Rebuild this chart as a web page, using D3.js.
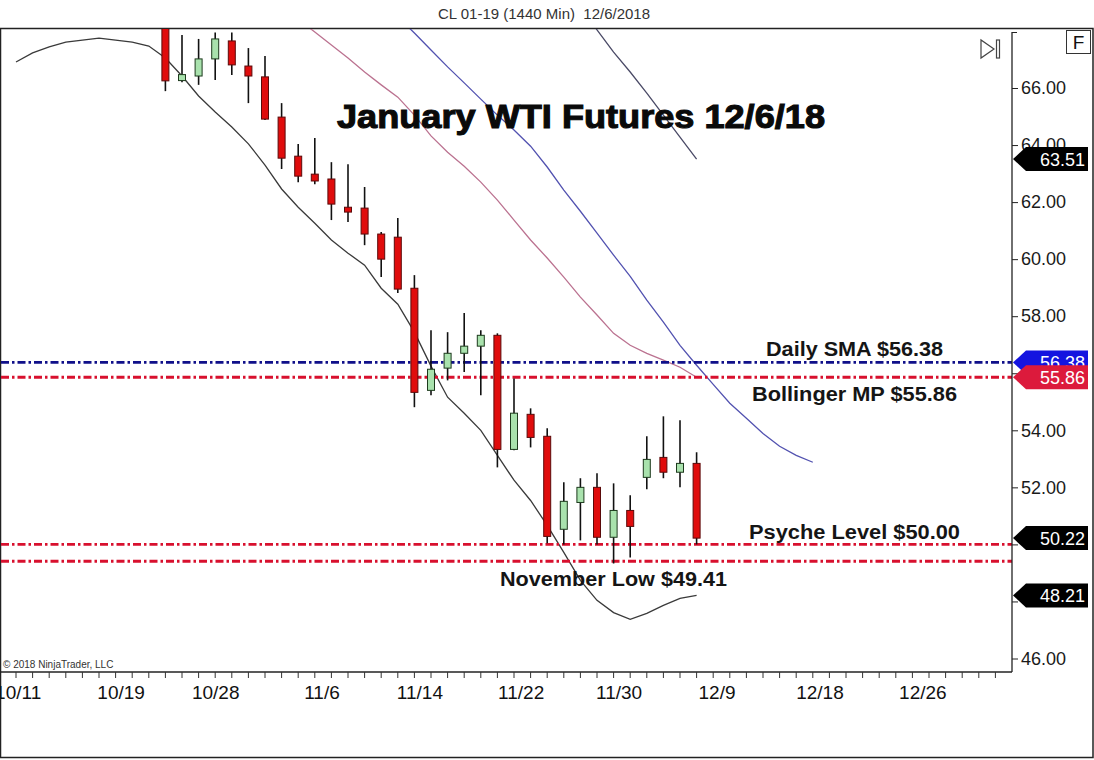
<!DOCTYPE html>
<html>
<head>
<meta charset="utf-8">
<script src="https://cdn.jsdelivr.net/npm/d3@7"></script>
<style>
  body { margin: 0; background: #fff; }
  svg { display: block; font-family: "Liberation Sans", Arial, sans-serif; }
</style>
</head>
<body>
<div id="chart"></div>
<script>
// candles, by trading-day index (first visible bar is index 9)
var firstBar = 9;
var opens  = [68.3, 66.26, 66.42, 67.02, 67.65, 66.77, 66.39, 64.98, 63.61, 62.98, 62.81, 61.82, 61.79, 60.88, 60.77, 58.98, 55.40, 56.18, 56.70, 56.95, 57.33, 53.33, 54.56, 53.79, 50.53, 51.47, 52.00, 50.25, 51.19, 52.35, 53.05, 52.53, 52.84];
var highs  = [69.0, 67.86, 67.72, 67.95, 67.95, 67.40, 67.12, 65.47, 64.04, 64.25, 63.40, 63.33, 62.53, 60.95, 61.44, 59.44, 57.51, 57.44, 58.11, 57.51, 57.40, 55.82, 54.77, 54.07, 52.18, 52.32, 52.49, 52.14, 51.72, 53.79, 54.49, 54.35, 53.23];
var lows   = [65.89, 66.20, 66.11, 66.28, 66.46, 65.47, 64.88, 63.16, 62.70, 62.63, 61.37, 61.30, 60.49, 59.37, 58.81, 54.81, 55.23, 55.75, 56.04, 55.23, 52.70, 53.30, 53.40, 50.04, 50.00, 50.14, 50.00, 49.33, 49.54, 51.93, 52.32, 52.00, 50.00];
var closes = [66.25, 66.47, 67.02, 67.72, 66.81, 66.42, 64.91, 63.54, 62.91, 62.74, 61.93, 61.65, 60.88, 60.00, 58.95, 55.33, 56.14, 56.70, 56.95, 57.33, 53.33, 54.60, 53.75, 50.28, 51.51, 52.00, 50.25, 51.19, 50.63, 52.98, 52.53, 52.84, 50.22];

// indicator lines: start index + values
var lowerBandStart = 0;
var lowerBand = [66.91, 67.23, 67.44, 67.61, 67.68, 67.75, 67.68, 67.61, 67.47, 67.05, 66.42, 65.72, 65.16, 64.63, 64.04, 63.30, 62.46, 61.82, 61.26, 60.67, 60.21, 59.79, 58.98, 58.42, 57.44, 56.25, 55.16, 54.60, 54.00, 53.12, 52.25, 51.54, 50.67, 49.72, 48.74, 48.04, 47.61, 47.37, 47.58, 47.86, 48.11, 48.21];
var midBandStart = 17;
var midBand = [68.42, 67.96, 67.51, 67.05, 66.56, 66.11, 65.68, 65.05, 64.32, 63.75, 63.26, 62.70, 62.07, 61.37, 60.67, 60.04, 59.37, 58.67, 58.04, 57.40, 56.98, 56.70, 56.46, 56.21, 55.86];
var upperBandStart = 34;
var upperBand = [68.81, 68.04, 67.26, 66.56, 65.82, 65.05, 64.28, 63.51];
var smaStart = 23;
var sma = [68.49, 67.93, 67.33, 66.74, 66.18, 65.61, 65.05, 64.53, 63.96, 63.23, 62.42, 61.68, 60.91, 60.14, 59.40, 58.56, 57.79, 56.98, 56.28, 55.61, 54.95, 54.42, 53.89, 53.44, 53.12, 52.88];

// horizontal levels
var levelValues = [56.38, 55.86, 50.00, 49.41];
var levelColors = ["#10108a", "#d8102e", "#d8102e", "#d8102e"];

// price tags on the right axis
var tagValues = [63.51, 56.38, 55.86, 50.22, 48.21];
var tagColors = ["#000", "#1414e0", "#dc1a3c", "#000", "#000"];

var priceTicks = [46, 48, 50, 52, 54, 56, 58, 60, 62, 64, 66];
var hiddenPriceLabels = [48, 50, 56];   // covered by tags in the original
var dateTickPos = [0.1, 6.3, 12.0, 18.4, 24.3, 30.4, 36.3, 42.2, 48.4, 54.6];
var dateTickLabels = ["10/11", "10/19", "10/28", "11/6", "11/14", "11/22", "11/30", "12/9", "12/18", "12/26"];

var width = 1094, height = 760;
var plotLeft = 1, plotTop = 29, plotRight = 1012, plotBottom = 672;

var svg = d3.select("#chart").append("svg")
    .attr("width", width)
    .attr("height", height);

var xScale = d3.scaleLinear().domain([0, 60]).range([16, 1012]);
var yScale = d3.scaleLinear().domain([46, 66]).range([658.5, 88]);

svg.append("defs").append("clipPath").attr("id", "plotclip")
    .append("rect")
    .attr("x", plotLeft).attr("y", plotTop)
    .attr("width", plotRight - plotLeft).attr("height", plotBottom - plotTop);

// header
svg.append("text")
    .attr("x", 544).attr("y", 19)
    .attr("text-anchor", "middle")
    .style("white-space", "pre")
    .style("font-family", "'Liberation Sans Narrow', 'Liberation Sans', sans-serif")
    .attr("font-size", 15)
    .attr("fill", "#333")
    .text("CL 01-19 (1440 Min)  12/6/2018");

// frame
svg.append("rect")
    .attr("x", 0.5).attr("y", 28.5)
    .attr("width", 1092.5).attr("height", 729)
    .attr("fill", "none").attr("stroke", "#222").attr("stroke-width", 1.5);

var plot = svg.append("g").attr("clip-path", "url(#plotclip)");

function lineFrom(start, values, color, w) {
    var pts = values.map(function (v, k) { return [start + k, v]; });
    plot.append("path")
        .datum(pts)
        .attr("fill", "none")
        .attr("stroke", color)
        .attr("stroke-width", w)
        .attr("d", d3.line()
            .x(function (d) { return xScale(d[0]); })
            .y(function (d) { return yScale(d[1]); }));
}

lineFrom(lowerBandStart, lowerBand, "#3a3a3a", 1.3);
lineFrom(midBandStart, midBand, "#bb7290", 1.3);
lineFrom(upperBandStart, upperBand, "#4a4a66", 1.3);
lineFrom(smaStart, sma, "#5252b0", 1.3);

// horizontal dash-dot levels
plot.selectAll("line.level")
    .data(levelValues).enter().append("line")
    .attr("class", "level")
    .attr("x1", plotLeft).attr("x2", plotRight)
    .attr("y1", function (d) { return yScale(d); })
    .attr("y2", function (d) { return yScale(d); })
    .attr("stroke", function (d, i) { return levelColors[i]; })
    .attr("stroke-width", 2.8)
    .attr("stroke-dasharray", "8,3,2.5,3");

// candles
var candles = opens.map(function (o, k) {
    return { i: firstBar + k, o: o, h: highs[k], l: lows[k], c: closes[k] };
});
var bodyW = 7;

var cg = plot.selectAll("g.candle")
    .data(candles).enter().append("g")
    .attr("class", "candle");

cg.append("line")
    .attr("x1", function (d) { return xScale(d.i); })
    .attr("x2", function (d) { return xScale(d.i); })
    .attr("y1", function (d) { return yScale(d.h); })
    .attr("y2", function (d) { return yScale(d.l); })
    .attr("stroke", "#111")
    .attr("stroke-width", 1.6);

cg.append("rect")
    .attr("x", function (d) { return xScale(d.i) - bodyW / 2; })
    .attr("y", function (d) { return yScale(Math.max(d.o, d.c)); })
    .attr("width", bodyW)
    .attr("height", function (d) { return Math.max(1, Math.abs(yScale(d.o) - yScale(d.c))); })
    .attr("fill", function (d) { return d.c >= d.o ? "#a9e2ad" : "#e00c0c"; })
    .attr("stroke", function (d) { return d.c >= d.o ? "#1d3a1d" : "#5a0a0a"; })
    .attr("stroke-width", 1);

// title and notes
svg.append("text")
    .attr("x", 337).attr("y", 128)
    .attr("textLength", 488).attr("lengthAdjust", "spacingAndGlyphs")
    .attr("font-size", 33).attr("font-weight", "bold")
    .attr("fill", "#0a0a0a").attr("stroke", "#0a0a0a").attr("stroke-width", 1.1)
    .text("January WTI Futures 12/6/18");

var notes = [
    { t: "Daily SMA $56.38", x: 766, w: 177, v: 56.38, dy: -6 },
    { t: "Bollinger MP $55.86", x: 752, w: 205, v: 55.86, dy: 24 },
    { t: "Psyche Level $50.00", x: 749, w: 211, v: 50.00, dy: -5 },
    { t: "November Low $49.41", x: 500, w: 227, v: 49.41, dy: 25 }
];
svg.selectAll("text.note")
    .data(notes).enter().append("text")
    .attr("class", "note")
    .attr("x", function (d) { return d.x; })
    .attr("y", function (d) { return yScale(d.v) + d.dy; })
    .attr("textLength", function (d) { return d.w; })
    .attr("lengthAdjust", "spacingAndGlyphs")
    .attr("font-size", 20).attr("font-weight", "bold")
    .attr("fill", "#151515")
    .text(function (d) { return d.t; });

// price axis
var yAxis = d3.axisRight(yScale)
    .tickValues(priceTicks)
    .tickFormat(function (d) { return hiddenPriceLabels.indexOf(d) >= 0 ? "" : d3.format(".2f")(d); })
    .tickSize(6)
    .tickPadding(3);

var ya = svg.append("g")
    .attr("transform", "translate(" + plotRight + ",0)")
    .call(yAxis);
ya.select(".domain").remove();
ya.selectAll("line").attr("stroke", "#222");
ya.selectAll("text")
    .attr("font-size", 18)
    .attr("font-family", "'Liberation Sans', Arial, sans-serif")
    .attr("fill", "#1a1a1a");

svg.append("line")
    .attr("x1", plotRight).attr("x2", plotRight)
    .attr("y1", 32).attr("y2", plotBottom)
    .attr("stroke", "#222").attr("stroke-width", 1.3);
svg.append("line")
    .attr("x1", plotRight).attr("x2", plotRight + 5)
    .attr("y1", 32.5).attr("y2", 32.5)
    .attr("stroke", "#222");

// price tags
var tags = svg.selectAll("g.tag")
    .data(tagValues).enter().append("g")
    .attr("class", "tag")
    .attr("transform", function (d) { return "translate(0," + yScale(d) + ")"; });

tags.append("path")
    .attr("d", "M1013,0 L1026,-12 L1088,-12 L1088,12 L1026,12 Z")
    .attr("fill", function (d, i) { return tagColors[i]; });

tags.append("text")
    .attr("x", 1085).attr("y", 6.5)
    .attr("text-anchor", "end")
    .attr("font-size", 18)
    .attr("fill", "#fff")
    .text(function (d) { return d3.format(".2f")(d); });

// date axis
var xAxis = d3.axisBottom(xScale)
    .tickValues(dateTickPos)
    .tickFormat(function (d, i) { return dateTickLabels[i]; })
    .tickSize(0)
    .tickPadding(14);

var xa = svg.append("g")
    .attr("transform", "translate(0," + plotBottom + ")")
    .call(xAxis);
xa.select(".domain").remove();
xa.selectAll("text")
    .attr("font-size", 19)
    .attr("font-family", "'Liberation Sans', Arial, sans-serif")
    .attr("fill", "#111");

svg.append("line")
    .attr("x1", 0).attr("x2", plotRight)
    .attr("y1", plotBottom).attr("y2", plotBottom)
    .attr("stroke", "#222").attr("stroke-width", 1.3);

svg.selectAll("line.minor")
    .data(d3.range(0, 60)).enter().append("line")
    .attr("class", "minor")
    .attr("x1", function (d) { return xScale(d); })
    .attr("x2", function (d) { return xScale(d); })
    .attr("y1", plotBottom).attr("y2", plotBottom + 6)
    .attr("stroke", "#333");

// copyright
svg.append("text")
    .attr("x", 3).attr("y", 668)
    .attr("font-size", 10)
    .attr("fill", "#333")
    .text("\u00a9 2018 NinjaTrader, LLC");

// toolbar glyphs
svg.append("path")
    .attr("d", "M981,40 L981,58 L994,49 Z")
    .attr("fill", "none").attr("stroke", "#444").attr("stroke-width", 1.2);
svg.append("rect")
    .attr("x", 996.5).attr("y", 40).attr("width", 3).attr("height", 18)
    .attr("fill", "none").attr("stroke", "#444").attr("stroke-width", 1.2);

svg.append("rect")
    .attr("x", 1066.5).attr("y", 30.5).attr("width", 24).attr("height", 23)
    .attr("fill", "#fff").attr("stroke", "#333");
svg.append("text")
    .attr("x", 1078.5).attr("y", 49)
    .attr("text-anchor", "middle")
    .attr("font-size", 19)
    .attr("fill", "#111")
    .text("F");
</script>
</body>
</html>
